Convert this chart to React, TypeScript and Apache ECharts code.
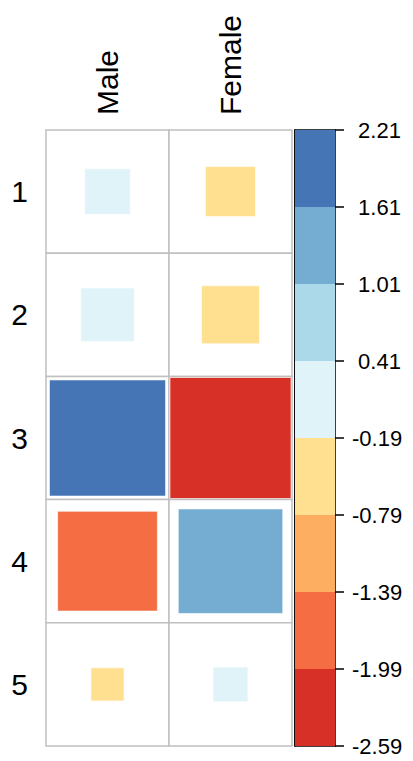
import React, { useEffect, useRef } from "react";
import * as echarts from "echarts";

const columns = ["Male", "Female"];
const rows = ["1", "2", "3", "4", "5"];
// residual values: rows 1..5, [Male, Female]
const maleValues = [0.15, 0.28, 2.02, -1.82, -0.37];
const femaleValues = [-0.6, -0.74, -2.59, 1.6, 0.01];
const colorBreaks = [-2.59, -1.99, -1.39, -0.79, -0.19, 0.41, 1.01, 1.61, 2.21];
const binColors = ["#D73027", "#F46D43", "#FDAE61", "#FEE090", "#E0F3F8", "#ABD9E9", "#74ADD1", "#4575B4"];

const FONT = "Liberation Sans, Arial, sans-serif";

function colorFor(v: number): string {
  for (let i = 0; i < binColors.length; i++) {
    if (v <= colorBreaks[i + 1] + 1e-9) return binColors[i];
  }
  return binColors[binColors.length - 1];
}

export default function App() {
  const ref = useRef<HTMLDivElement>(null);
  useEffect(() => {
    document.body.style.margin = "0";
    const chart = echarts.init(ref.current!, null, { renderer: "svg" });
    const lo = colorBreaks[0];
    const hi = colorBreaks[colorBreaks.length - 1];
    const center = (lo + hi) / 2;
    const half = (hi - lo) / 2;

    const cellData: number[][] = [];
    rows.forEach((_, r) => {
      cellData.push([0, r, maleValues[r]]);
      cellData.push([1, r, femaleValues[r]]);
    });
    const binData = binColors.map((_, i) => [i, colorBreaks[i], colorBreaks[i + 1]]);
    const tickData = colorBreaks.map((b) => [1, b]);

    chart.setOption({
      animation: false,
      backgroundColor: "#ffffff",
      grid: [
        { left: 46, top: 130, width: 246, height: 616, containLabel: false },
        { left: 295, top: 130, width: 40, height: 616, show: true, borderColor: "#000", borderWidth: 1.5, backgroundColor: "transparent" },
      ],
      xAxis: [
        {
          gridIndex: 0,
          type: "category",
          data: columns,
          position: "top",
          axisLine: { show: false },
          axisTick: { show: false },
          splitLine: { show: false },
          axisLabel: { rotate: -90, fontSize: 30, color: "#000", fontFamily: FONT, margin: 15 },
        },
        { gridIndex: 1, type: "value", min: 0, max: 1, show: false },
      ],
      yAxis: [
        {
          gridIndex: 0,
          type: "category",
          data: rows,
          inverse: true,
          axisLine: { show: false },
          axisTick: { show: false },
          splitLine: { show: false },
          axisLabel: { fontSize: 30, color: "#000", fontFamily: FONT, margin: 18 },
        },
        {
          gridIndex: 1,
          type: "value",
          position: "right",
          min: lo,
          max: hi,
          splitLine: { show: false },
          axisLine: { show: true, lineStyle: { color: "#000", width: 1.5 } },
          axisTick: { show: false },
          axisLabel: {
            show: true,
            customValues: colorBreaks,
            margin: 17,
            fontSize: 22,
            color: "#000",
            fontFamily: FONT,
            align: "left",
            formatter: (v: number) => (v >= 0 ? "\u00a0" + v.toFixed(2) : v.toFixed(2)),
          },
        },
      ],
      series: [
        {
          type: "custom",
          xAxisIndex: 0,
          yAxisIndex: 0,
          data: cellData,
          renderItem: (params: any, api: any) => {
            const x = api.value(0);
            const y = api.value(1);
            const v = api.value(2);
            const c = api.coord([x, y]);
            const s = api.size([1, 1]);
            const full = Math.min(s[0], s[1]) - 2;
            const scaled = Math.min(1, Math.abs((v - center) / half));
            const side = full * Math.sqrt(scaled);
            return {
              type: "group",
              children: [
                {
                  type: "rect",
                  shape: { x: c[0] - s[0] / 2, y: c[1] - s[1] / 2, width: s[0], height: s[1] },
                  style: { fill: "#fff", stroke: "#C0C0C0", lineWidth: 1.5 },
                },
                {
                  type: "rect",
                  shape: { x: c[0] - side / 2, y: c[1] - side / 2, width: side, height: side },
                  style: { fill: colorFor(v), stroke: "rgba(255,255,255,0.6)", lineWidth: 1 },
                },
              ],
            };
          },
        },
        {
          type: "custom",
          xAxisIndex: 1,
          yAxisIndex: 1,
          data: binData,
          z: 1,
          renderItem: (params: any, api: any) => {
            const i = api.value(0);
            const p1 = api.coord([0, api.value(2)]);
            const p2 = api.coord([1, api.value(1)]);
            return {
              type: "rect",
              shape: { x: p1[0], y: p1[1], width: p2[0] - p1[0], height: p2[1] - p1[1] },
              style: { fill: binColors[i], stroke: null },
            };
          },
        },
        {
          type: "custom",
          xAxisIndex: 1,
          yAxisIndex: 1,
          data: tickData,
          z: 5,
          clip: false,
          renderItem: (params: any, api: any) => {
            const p = api.coord([api.value(0), api.value(1)]);
            return {
              type: "line",
              shape: { x1: p[0], y1: p[1], x2: p[0] + 9, y2: p[1] },
              style: { stroke: "#000", lineWidth: 1.5 },
            };
          },
        },
      ],
    });
    return () => chart.dispose();
  }, []);
  return <div ref={ref} style={{ width: 413, height: 761 }} />;
}
